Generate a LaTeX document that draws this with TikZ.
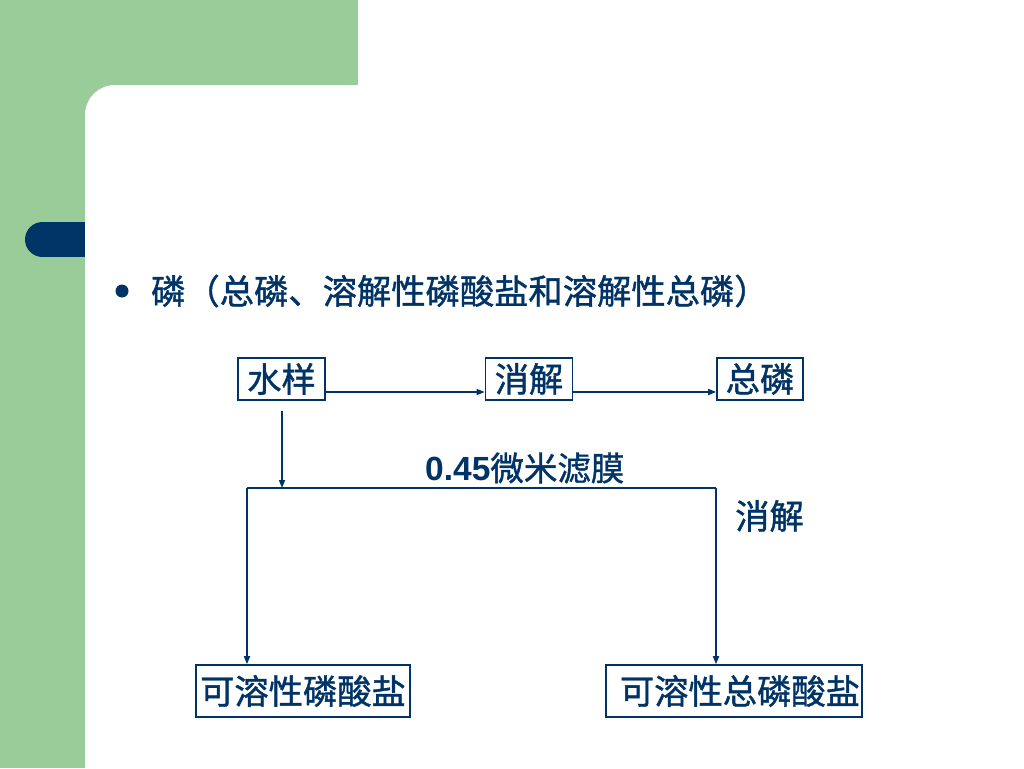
\documentclass[tikz,border=0pt]{standalone}
\usepackage{fontspec}
\setmainfont{Liberation Sans}
\newfontfamily\cjk[FakeBold=1.2]{Noto Sans CJK SC}
\usetikzlibrary{arrows.meta,calc}
\definecolor{navy}{HTML}{003366}
\definecolor{sagegreen}{HTML}{99CC99}
\tikzset{
  box/.style={draw=navy, line width=1.6pt, text=navy, inner sep=0pt, font=\cjk\fontsize{34.3}{37}\selectfont},
  arr/.style={draw=navy, line width=1.6pt, -{Triangle[length=8pt,width=6pt]}},
  ln/.style={draw=navy, line width=1.6pt},
  lbl/.style={text=navy, inner sep=0pt, font=\cjk\fontsize{34.3}{37}\selectfont},
}
\begin{document}
\begin{tikzpicture}[x=1pt,y=-1pt]
\useasboundingbox (0,0) rectangle (1024,768);
\fill[white] (0,0) rectangle (1024,768);
% background decoration
\fill[sagegreen] (0,0) rectangle (358,130);
\fill[sagegreen] (0,0) rectangle (85,768);
\fill[navy] (42.5,222) rectangle (85,257);
\fill[navy] (42.5,239.5) circle (17.5);
\fill[white] (85,768) -- (85,115) .. controls (85,98.4) and (98.4,85) .. (115,85) -- (358,85) -- (358,768) -- cycle;
% title
\fill[navy] (122,291) circle (6.5);
\node[lbl, anchor=west] (title) at (151,291) {磷（总磷、溶解性磷酸盐和溶解性总磷）};
% boxes
\node[box, minimum width=87pt, minimum height=42pt] (sample) at (281.5,379) {水样};
\node[box, minimum width=87pt, minimum height=42pt] (digest) at (529,379) {消解};
\node[box, minimum width=86pt, minimum height=42pt] (total) at (760,379) {总磷};
\node[box, minimum width=214pt, minimum height=52pt] (sp) at (303,691) {可溶性磷酸盐};
\node[box, text width=252pt, align=right, inner xsep=2pt, minimum height=52pt] (stp) at (734,691) {可溶性总磷酸盐};
% labels
\node[text=navy, inner sep=0pt, anchor=west] (filter) at (425,468) {\fontsize{33.5}{36}\selectfont\bfseries 0.45\mdseries{\cjk 微米滤膜}};
\node[lbl, anchor=west] (dig2) at (735,516) {消解};
% connectors
\draw[arr] ([yshift=-13pt]sample.east) -- ([yshift=-13pt]digest.west);
\draw[arr] ([yshift=-13pt]digest.east) -- ([yshift=-13pt]total.west);
\coordinate (jl) at (247,488);
\coordinate (jr) at (716,488);
\draw[arr] ([yshift=-10pt]sample.south -| 282,0) -- (282,488);
\draw[ln] (jl) -- (jr);
\draw[arr] (jl) -- (jl |- sp.north);
\draw[arr] (jr) -- (jr |- stp.north);
\end{tikzpicture}
\end{document}
